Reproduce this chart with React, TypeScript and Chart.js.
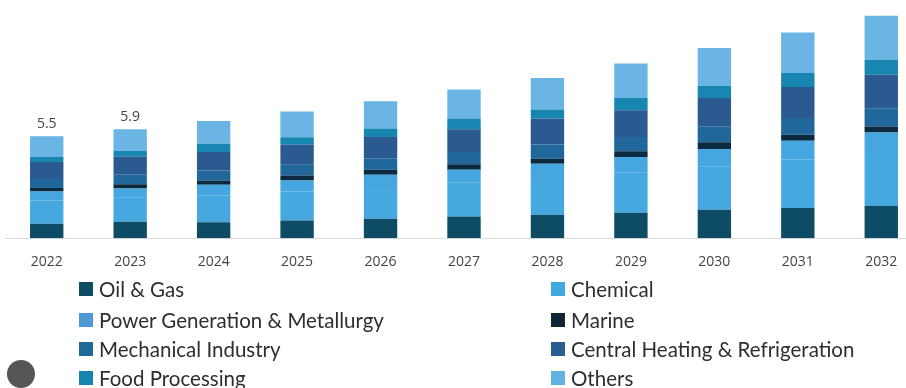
import React, { useEffect, useRef } from "react";
import { Chart, registerables } from "chart.js";

Chart.register(...registerables);

const years = ["2022", "2023", "2024", "2025", "2026", "2027", "2028", "2029", "2030", "2031", "2032"];

const oilGas = [0.78, 0.88, 0.86, 0.95, 1.05, 1.17, 1.26, 1.37, 1.53, 1.62, 1.74];
const chemical = [1.25, 1.3, 1.45, 1.56, 1.71, 1.81, 1.98, 2.16, 2.35, 2.61, 2.84];
const powerGen = [0.49, 0.5, 0.57, 0.6, 0.66, 0.71, 0.77, 0.84, 0.92, 1.02, 1.11];
const marine = [0.18, 0.23, 0.23, 0.27, 0.27, 0.29, 0.27, 0.31, 0.36, 0.32, 0.32];
const mechanical = [0.49, 0.51, 0.54, 0.58, 0.62, 0.66, 0.76, 0.77, 0.84, 0.9, 0.98];
const centralHeating = [0.91, 0.96, 0.99, 1.07, 1.14, 1.23, 1.4, 1.44, 1.55, 1.67, 1.81];
const foodProcessing = [0.27, 0.32, 0.45, 0.41, 0.45, 0.58, 0.49, 0.66, 0.66, 0.75, 0.81];
const others = [1.12, 1.17, 1.22, 1.38, 1.47, 1.56, 1.7, 1.85, 2.03, 2.19, 2.37];

const totalLabels = ["5.5", "5.9", "", "", "", "", "", "", "", "", ""];

const seriesNames = [
  "Oil & Gas",
  "Chemical",
  "Power Generation & Metallurgy",
  "Marine",
  "Mechanical Industry",
  "Central Heating & Refrigeration",
  "Food Processing",
  "Others",
];
const seriesColors = ["#0e4c65", "#45a9e0", "#46a6df", "#0b2a3f", "#20679b", "#2b5a90", "#1786b0", "#6ab5e3"];
const legendColors = ["#0e4d63", "#3fa9df", "#4f98d4", "#0f2535", "#1e6a99", "#2a5d92", "#1585b0", "#62b3e3"];
const seriesData = [oilGas, chemical, powerGen, marine, mechanical, centralHeating, foodProcessing, others];

const totalsPlugin = {
  id: "totalsPlugin",
  afterDatasetsDraw(chart: any) {
    const ctx = chart.ctx;
    const lastIdx = chart.data.datasets.length - 1;
    const meta = chart.getDatasetMeta(lastIdx);
    ctx.save();
    ctx.font = "14px 'Open Sans'";
    ctx.fillStyle = "#444";
    ctx.textAlign = "center";
    ctx.textBaseline = "middle";
    meta.data.forEach((bar: any, i: number) => {
      const t = totalLabels[i];
      if (t) ctx.fillText(t, bar.x, bar.y - 12);
    });
    ctx.restore();
  },
};

export default function App() {
  const canvasRef = useRef<HTMLCanvasElement | null>(null);

  useEffect(() => {
    if (!canvasRef.current) return;
    const chart = new Chart(canvasRef.current, {
      type: "bar",
      data: {
        labels: years,
        datasets: seriesData.map((d, i) => ({
          label: seriesNames[i],
          data: d,
          backgroundColor: seriesColors[i],
          borderWidth: 0,
          categoryPercentage: 1,
          barPercentage: 0.4,
        })),
      },
      options: {
        animation: false,
        responsive: true,
        maintainAspectRatio: false,
        layout: { padding: { top: 6, left: 11, right: 1, bottom: 7 } },
        plugins: {
          legend: { display: false },
          tooltip: { enabled: false },
        },
        scales: {
          x: {
            stacked: true,
            grid: { display: false, drawTicks: false },
            border: { display: true, color: "#dcdcdc", width: 1 },
            ticks: { color: "#444", font: { family: "'Open Sans'", size: 14 }, padding: 15 },
          },
          y: {
            stacked: true,
            display: false,
            min: 0,
            max: 12.5,
          },
        },
      },
      plugins: [totalsPlugin],
    });
    return () => chart.destroy();
  }, []);

  const rowCenters = [289, 320, 349, 378];
  return (
    <div
      style={{
        position: "fixed",
        left: 0,
        top: 0,
        width: 906,
        height: 388,
        overflow: "hidden",
        background: "#fff",
      }}
    >
      <div style={{ position: "absolute", left: -6, top: 0, width: 930, height: 292 }}>
        <canvas ref={canvasRef} />
      </div>
      {seriesNames.map((name, i) => {
        const col = i % 2;
        const row = Math.floor(i / 2);
        return (
          <div
            key={name}
            style={{
              position: "absolute",
              left: col === 0 ? 79 : 551,
              top: rowCenters[row] - 15,
              height: 30,
              display: "flex",
              alignItems: "center",
              whiteSpace: "nowrap",
              fontFamily: "Lato, 'Open Sans', sans-serif",
              fontSize: 20.5,
              color: "#2e2e2e",
            }}
          >
            <span
              style={{
                display: "inline-block",
                width: 14,
                height: 14,
                background: legendColors[i],
                marginRight: 6,
              }}
            />
            <span>{name}</span>
          </div>
        );
      })}
      <div
        style={{
          position: "absolute",
          left: 7,
          top: 360,
          width: 28,
          height: 28,
          borderRadius: "50%",
          background: "#555",
        }}
      />
    </div>
  );
}
